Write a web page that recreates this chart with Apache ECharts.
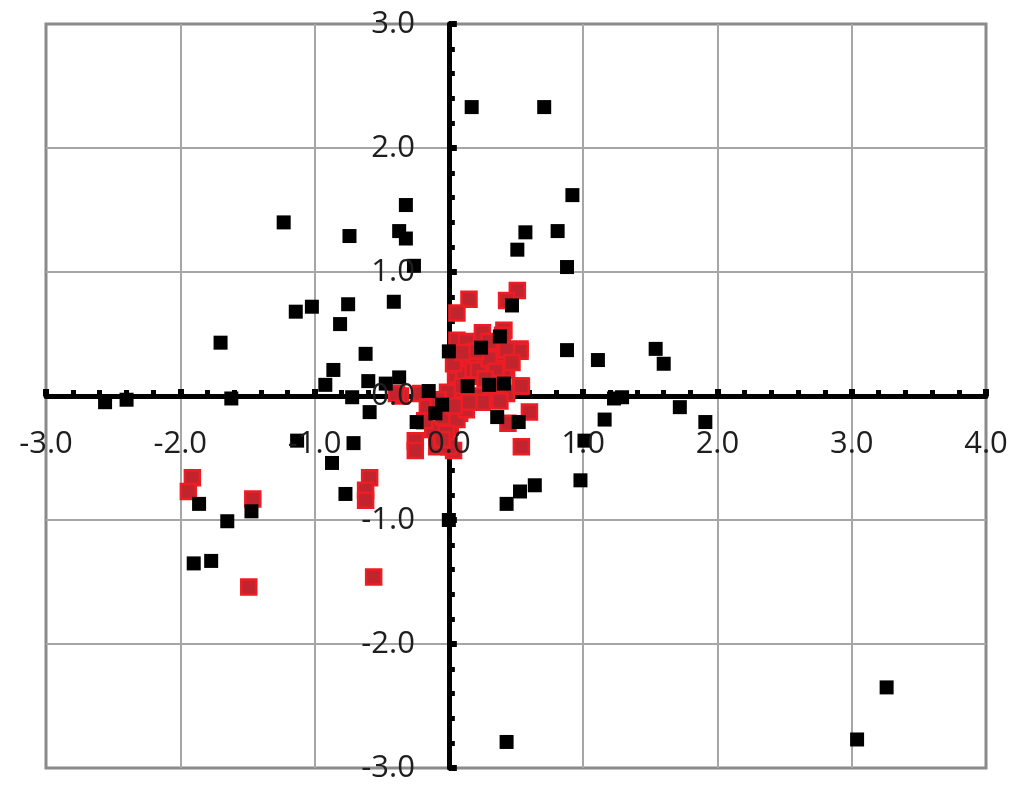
<!DOCTYPE html>
<html>
<head>
<meta charset="utf-8">
<script src="https://cdn.jsdelivr.net/npm/echarts@6/dist/echarts.min.js"></script>
<style>
html,body{margin:0;padding:0;background:#fff;}
#chart{width:1024px;height:794px;}
</style>
</head>
<body>
<div id="chart"></div>
<script>
// X / Y axis tick range
var xTicks = [-3, -2, -1, 0, 1, 2, 3, 4];
var yTicks = [-3, -2, -1, 0, 1, 2, 3];

// Red series [x, y]
var redPoints = [
  [-1.91,-0.66],[-1.94,-0.77],[-1.46,-0.83],[-1.49,-1.54],[-0.59,-0.66],[-0.62,-0.76],[-0.62,-0.84],[-0.56,-1.46],
  [0.15,0.78],[0.06,0.67],[0.51,0.85],[0.43,0.77],
  [0.25,0.51],[0.41,0.53],[0.53,0.38],[0.42,0.37],[0.06,0.45],[0.13,0.44],
  [0.12,0.22],[0.23,0.26],[0.43,0.21],[0.06,0.29],[0.05,0.13],[0.23,0.16],[0.16,0.29],[0.11,0.18],[0.18,0.21],[0.035,0.26],
  [0.53,0.08],[0.33,-0.03],[0.21,0.00],[0.43,0.02],[0.11,0.00],[0.06,0.05],[-0.01,0.03],[-0.21,0.02],[-0.36,0.00],[-0.39,0.02],
  [0.44,-0.22],[0.60,-0.13],[-0.25,-0.36],[-0.25,-0.44],[-0.12,-0.27],[-0.09,-0.41],[0.035,-0.44],[0.01,-0.25],[0.08,-0.14],
  [0.54,-0.41],[-0.13,-0.11],[-0.16,-0.09],[-0.04,-0.17],[0.06,-0.19],[0.13,-0.11],[-0.02,-0.30],[0.00,-0.41],
  [0.41,0.34],[0.53,0.36],[0.22,0.21],[0.41,0.22],[0.54,0.08],[0.40,0.49],[0.43,0.37],
  [0.30,0.30],[0.35,0.20],[0.30,0.44],[0.20,0.36],[0.10,0.35],[0.35,0.10],[0.47,0.27],[0.27,0.14],
  [0.10,0.08],[0.25,-0.05],[0.38,-0.04],[0.15,-0.05],[0.04,-0.08],[-0.08,-0.03],[-0.05,-0.35],[-0.18,-0.20]
];

// Black series [x, y]
var blackPoints = [
  [0.17,2.33],[0.71,2.33],[-1.23,1.40],[-0.32,1.54],[-0.74,1.29],[-0.37,1.33],[-0.32,1.27],[-0.26,1.05],
  [0.51,1.18],[0.57,1.32],[0.92,1.62],[0.81,1.33],[0.88,1.04],
  [-0.41,0.76],[-0.75,0.74],[-1.02,0.72],[-1.14,0.68],[-0.81,0.58],[-1.70,0.43],[-0.62,0.34],
  [0.00,0.36],[0.24,0.39],[0.38,0.48],[0.47,0.73],[0.88,0.37],[1.11,0.29],[1.54,0.38],[1.60,0.26],
  [-0.86,0.21],[-0.92,0.09],[-0.60,0.12],[-0.37,0.15],[-0.47,0.10],[-0.15,0.04],[0.14,0.08],[0.30,0.09],[0.41,0.10],
  [-2.56,-0.05],[-2.40,-0.03],[-1.62,-0.02],[-0.72,-0.01],[-0.59,-0.13],[-0.24,-0.21],[-0.10,-0.14],[-0.05,-0.07],
  [0.36,-0.17],[0.52,-0.21],[-1.13,-0.36],[-0.71,-0.38],[-0.87,-0.54],[-0.77,-0.79],
  [-1.86,-0.87],[-1.47,-0.93],[-1.65,-1.01],[-1.90,-1.35],[-1.77,-1.33],
  [0.00,-1.00],[0.43,-0.87],[0.43,-2.79],
  [1.23,-0.02],[1.29,-0.01],[1.72,-0.09],[1.91,-0.21],[1.16,-0.19],[1.01,-0.36],[0.98,-0.68],[0.64,-0.72],[0.53,-0.77],
  [3.26,-2.35],[3.04,-2.77]
];

var W = 1024, H = 794;
var G = {left: 46, right: 38, top: 24, bottom: 26};
var chart = echarts.init(document.getElementById('chart'), null, {renderer: 'canvas', width: W, height: H});
var xMin = xTicks[0], xMax = xTicks[xTicks.length - 1];
var yMin = yTicks[0], yMax = yTicks[yTicks.length - 1];
var labelFont = {fontFamily: 'Open Sans', fontSize: 31, color: '#1e1e1e'};

// label-only axes are shifted to the zero lines (labels drawn above the markers)
var gw = W - G.left - G.right, gh = H - G.top - G.bottom;
var xLabelOffset = -gh * (0 - yMin) / (yMax - yMin);
var yLabelOffset = -gw * (0 - xMin) / (xMax - xMin);

function fmt(v) { return v.toFixed(1); }

var option = {
  animation: false,
  backgroundColor: '#ffffff',
  grid: {left: G.left, right: G.right, top: G.top, bottom: G.bottom, show: true, borderColor: '#8a8a8a', borderWidth: 3,
         containLabel: false, outerBoundsMode: 'none'},
  xAxis: [
    {
      type: 'value', min: xMin, max: xMax, interval: 1, position: 'bottom', z: 1,
      axisLine: {show: true, onZero: true, onZeroAxisIndex: 0, lineStyle: {color: '#000', width: 5}},
      axisTick: {show: true, inside: true, length: 7, lineStyle: {color: '#000', width: 6}},
      minorTick: {show: true, splitNumber: 5, length: 6, lineStyle: {color: '#000', width: 5}},
      axisLabel: {show: false},
      splitLine: {show: true, showMinLine: false, showMaxLine: false, lineStyle: {color: '#a6a6a6', width: 2}}
    },
    {
      type: 'value', min: xMin, max: xMax, interval: 1, position: 'bottom', offset: xLabelOffset, z: 20,
      axisLine: {show: false, onZero: false},
      axisTick: {show: false},
      axisLabel: Object.assign({show: true, margin: 33, formatter: fmt}, labelFont),
      splitLine: {show: false}
    }
  ],
  yAxis: [
    {
      type: 'value', min: yMin, max: yMax, interval: 1, position: 'left', z: 1,
      axisLine: {show: true, onZero: true, onZeroAxisIndex: 0, lineStyle: {color: '#000', width: 5}},
      axisTick: {show: true, inside: true, length: 8, lineStyle: {color: '#000', width: 6}},
      minorTick: {show: true, splitNumber: 5, length: 6, lineStyle: {color: '#000', width: 5}},
      axisLabel: {show: false},
      splitLine: {show: true, showMinLine: false, showMaxLine: false, lineStyle: {color: '#a6a6a6', width: 2}}
    },
    {
      type: 'value', min: yMin, max: yMax, interval: 1, position: 'left', offset: yLabelOffset, z: 20,
      axisLine: {show: false, onZero: false},
      axisTick: {show: false},
      axisLabel: Object.assign({show: true, margin: 34, formatter: fmt}, labelFont),
      splitLine: {show: false}
    }
  ],
  series: [
    {
      name: 'red', type: 'scatter', xAxisIndex: 0, yAxisIndex: 0, symbol: 'rect', symbolSize: 15,
      itemStyle: {color: '#c1242c', borderColor: '#ee1d25', borderWidth: 2.5, opacity: 1},
      data: redPoints, z: 3
    },
    {
      name: 'black', type: 'scatter', xAxisIndex: 0, yAxisIndex: 0, symbol: 'rect', symbolSize: 14,
      itemStyle: {color: '#000000', opacity: 1},
      data: blackPoints, z: 4
    }
  ]
};
chart.setOption(option);
</script>
</body>
</html>
